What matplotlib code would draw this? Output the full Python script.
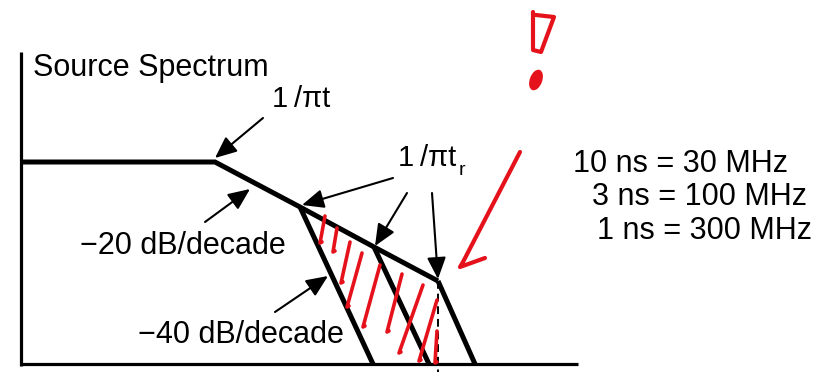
import matplotlib
matplotlib.use('Agg')
import matplotlib.pyplot as plt
from matplotlib.patches import Ellipse

plt.rcParams['font.family'] = ['Liberation Sans', 'DejaVu Sans']

# spectrum envelope sketch, in drawing units (x to the right, y downwards)
axis_x = 21
axis_top = 52
floor_y = 364
floor_end = 578
flat_y = 162

knee_x = [215, 300, 374, 438]        # 1/pi*t, then the three 1/pi*tr corners
knee_y = [162, 207, 247, 281]
rolloff_end_x = [373, 429, 475]      # where each -40 dB/decade slope hits the floor
dash_x = 438

# arrow tails and heads
arrow_tail = [(263, 118), (205, 222), (275, 312), (393, 178), (407, 193), (432, 193)]
arrow_head = [(215, 158), (250, 189), (328, 276), (302, 205), (375, 246), (438, 279)]

labels = ['Source Spectrum', '−20 dB/decade', '−40 dB/decade',
          '10 ns = 30 MHz', '3 ns = 100 MHz', '1 ns = 300 MHz']
label_x = [33, 80, 138, 573, 592, 597]
label_y = [76, 254, 343, 172, 205, 239]

corner_label = '1\u2009/πt'
corner_label_x = [272, 398]
corner_label_y = [107, 166]

# hand-drawn hatching strokes between the slopes: top and bottom points
hatch_top = [(325, 216), (337, 228), (350, 242), (362, 253), (380, 265),
             (402, 274), (423, 285), (437, 300), (437, 331)]
hatch_bot = [(320, 243), (333, 252), (341, 283), (347, 307), (363, 327),
             (387, 332), (399, 353), (419, 361), (435, 363)]

red_arrow_x = [520, 492, 463, 460, 485]
red_arrow_y = [152, 206, 262, 267, 258]
bang_x = [533, 533, 541, 554, 536]
bang_y = [12, 50, 52, 17, 15]
bang_dot = (536, 80)

fig = plt.figure(figsize=(8.17, 3.72), dpi=100)
ax = fig.add_axes([0, 0, 1, 1])
ax.set_xlim(0, 817)
ax.set_ylim(372, 0)
ax.axis('off')

# axes of the sketch
ax.plot([axis_x, axis_x], [axis_top, floor_y + 2], color='k', lw=2.3, solid_capstyle='butt')
ax.plot([axis_x - 1, floor_end], [floor_y, floor_y], color='k', lw=2.3, solid_capstyle='butt')

# flat part and -20 dB/decade slope
ax.plot([axis_x] + knee_x, [flat_y] + knee_y, color='k', lw=3.6,
        solid_joinstyle='miter', solid_capstyle='butt')
# -40 dB/decade slopes
for x0, y0, x1 in zip(knee_x[1:], knee_y[1:], rolloff_end_x):
    ax.plot([x0, x1], [y0, floor_y], color='k', lw=3.6, solid_capstyle='butt')

ax.plot([dash_x, dash_x], [knee_y[-1], 372], color='k', lw=1.4, dashes=(4, 2.5))

for (tx, ty), (hx, hy) in zip(arrow_tail, arrow_head):
    ax.annotate('', xy=(hx, hy), xytext=(tx, ty),
                arrowprops=dict(arrowstyle='-|>,head_length=0.55,head_width=0.24',
                                mutation_scale=24, lw=1.5, color='k',
                                shrinkA=0, shrinkB=0))

for s, x, y in zip(labels, label_x, label_y):
    ax.text(x, y, s, fontsize=22, ha='left', va='baseline', color='k')

corner_texts = [ax.text(x, y, corner_label, fontsize=21, ha='left', va='baseline', color='k')
                for x, y in zip(corner_label_x, corner_label_y)]

# subscript r after the second corner label
fig.canvas.draw()
bb = corner_texts[1].get_window_extent()
x_end = ax.transData.inverted().transform((bb.x1, bb.y0))[0]
ax.text(x_end + 2, corner_label_y[1] + 9, 'r', fontsize=14, ha='left', va='baseline', color='k')

# red markup
red = '#e5121c'
for (x0, y0), (x1, y1) in zip(hatch_top, hatch_bot):
    ax.plot([x0, x1, x1 + 2], [y0, y1, y1 - 1], color=red, lw=2.6,
            solid_capstyle='round', solid_joinstyle='round')
ax.plot(red_arrow_x, red_arrow_y, color=red, lw=3.0,
        solid_capstyle='round', solid_joinstyle='round')
ax.plot(bang_x, bang_y, color=red, lw=3.0,
        solid_capstyle='round', solid_joinstyle='round')
ax.add_patch(Ellipse(bang_dot, 11, 20, angle=20, color=red))

fig.savefig('out.png', dpi=100)
